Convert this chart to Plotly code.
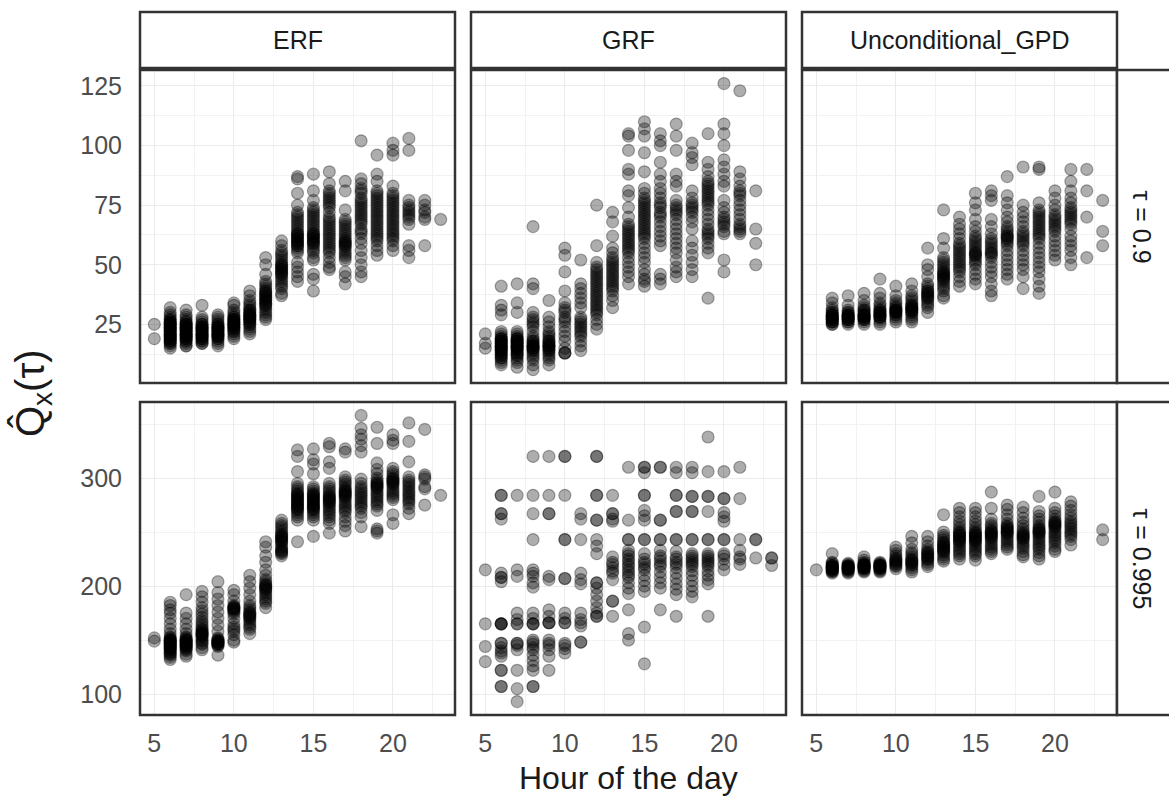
import plotly.graph_objects as go

hours = list(range(5, 24))
methods = ["ERF", "GRF", "Unconditional_GPD"]
taus = ["τ = 0.9", "τ = 0.995"]
xticks = [5, 10, 15, 20]
yticks_090 = [0, 25, 50, 75, 100, 125]
yticks_0995 = [100, 200, 300]

# values per hour (hours 5..23) (repeats = overlapping points)
erf_090 = [
    [25, 19],
    [32, 30, 29, 28, 27, 27, 26, 26, 26, 25, 25, 25, 24, 24, 24, 23, 23, 23, 22, 22, 22, 21, 21, 21, 20, 20, 20, 19, 19, 19, 18, 18, 18, 17, 17, 16, 15],
    [31, 29, 28, 27, 26, 26, 25, 25, 25, 24, 24, 24, 23, 23, 23, 22, 22, 22, 21, 21, 21, 20, 20, 20, 19, 19, 19, 18, 18, 17, 16, 16],
    [33, 28, 27, 26, 25, 25, 24, 24, 24, 23, 23, 23, 22, 22, 22, 21, 21, 21, 20, 20, 20, 19, 19, 19, 18, 18, 17, 17],
    [29, 28, 27, 26, 25, 25, 24, 24, 24, 23, 23, 23, 22, 22, 22, 21, 21, 21, 20, 20, 20, 19, 19, 18, 17, 16],
    [34, 33, 31, 30, 29, 28, 28, 27, 27, 27, 26, 26, 26, 25, 25, 25, 24, 24, 24, 23, 23, 22, 22, 21, 20, 19],
    [39, 37, 35, 34, 33, 32, 31, 31, 30, 30, 29, 29, 29, 28, 28, 28, 27, 27, 27, 26, 26, 25, 25, 24, 23, 22, 21],
    [53, 50, 46, 43, 42, 41, 40, 39, 39, 38, 38, 37, 37, 36, 36, 35, 35, 34, 34, 33, 33, 32, 31, 30, 29, 28, 27],
    [60, 58, 56, 55, 54, 53, 52, 51, 50, 50, 49, 49, 48, 48, 47, 47, 46, 46, 45, 44, 43, 42, 41, 40, 38, 37],
    [87, 86, 80, 75, 72, 71, 70, 69, 68, 67, 66, 65, 64, 63, 63, 62, 62, 61, 61, 60, 60, 59, 59, 58, 58, 57, 56, 55, 51, 49, 47, 45, 43],
    [88, 81, 77, 74, 73, 72, 71, 70, 69, 68, 67, 66, 65, 64, 63, 63, 62, 62, 61, 61, 60, 60, 59, 59, 58, 57, 56, 55, 53, 52, 46, 44, 39],
    [89, 84, 81, 80, 79, 78, 77, 76, 75, 74, 72, 70, 69, 68, 67, 66, 65, 64, 63, 62, 61, 60, 59, 58, 57, 56, 55, 53, 51, 49, 48],
    [85, 81, 73, 69, 68, 67, 66, 65, 64, 63, 62, 61, 60, 60, 59, 59, 58, 58, 57, 56, 55, 54, 53, 52, 47, 45, 42],
    [102, 86, 84, 82, 81, 80, 78, 77, 76, 75, 74, 73, 72, 71, 70, 69, 68, 67, 65, 64, 63, 61, 59, 56, 53, 50, 47, 45],
    [96, 88, 85, 81, 80, 79, 78, 77, 76, 75, 74, 73, 72, 71, 70, 69, 68, 67, 66, 65, 64, 63, 62, 61, 60, 58, 56, 54],
    [101, 98, 96, 83, 80, 79, 78, 77, 76, 75, 74, 73, 72, 71, 70, 69, 68, 67, 66, 65, 64, 63, 62, 61, 60, 58, 56],
    [103, 98, 77, 75, 74, 73, 72, 71, 70, 69, 67, 58, 56, 53],
    [77, 75, 73, 72, 70, 69, 58],
    [69],
]

grf_090 = [
    [21, 17, 15],
    [41, 33, 31, 29, 22, 21, 20, 19, 19, 19, 18, 18, 18, 17, 17, 17, 16, 16, 16, 15, 15, 15, 14, 14, 14, 13, 13, 12, 12, 11, 11, 10, 9, 8],
    [42, 34, 30, 22, 21, 20, 19, 19, 19, 18, 18, 18, 17, 17, 17, 16, 16, 16, 15, 15, 15, 14, 14, 13, 13, 12, 12, 11, 10, 9, 7],
    [66, 42, 40, 30, 28, 27, 26, 25, 24, 22, 20, 19, 18, 18, 17, 17, 16, 16, 16, 15, 15, 15, 14, 14, 13, 12, 11, 10, 8, 6],
    [35, 28, 26, 24, 22, 21, 20, 19, 18, 18, 17, 17, 16, 16, 16, 15, 15, 14, 14, 13, 12, 11, 10, 8],
    [57, 54, 47, 39, 34, 32, 31, 30, 28, 27, 26, 24, 22, 20, 18, 15, 13, 13, 13],
    [52, 42, 40, 38, 36, 34, 32, 28, 27, 26, 25, 24, 23, 22, 21, 20, 18, 16, 14],
    [75, 58, 51, 49, 48, 47, 46, 45, 44, 43, 42, 41, 40, 39, 38, 37, 36, 35, 34, 33, 32, 31, 30, 29, 27, 25, 23],
    [72, 68, 62, 57, 55, 53, 52, 51, 50, 49, 48, 47, 46, 45, 44, 43, 42, 41, 40, 39, 37, 35, 32],
    [105, 104, 98, 90, 88, 81, 79, 74, 70, 67, 66, 65, 64, 63, 62, 61, 60, 59, 58, 57, 56, 55, 53, 51, 49, 47, 45, 42],
    [110, 107, 104, 97, 89, 82, 80, 78, 77, 76, 75, 74, 73, 72, 71, 70, 69, 68, 67, 66, 65, 64, 63, 62, 61, 59, 57, 55, 53, 51, 48, 46, 44, 43, 41],
    [105, 102, 100, 93, 88, 85, 82, 80, 78, 76, 75, 74, 72, 71, 70, 68, 66, 64, 62, 60, 58, 46, 44, 42],
    [109, 104, 98, 88, 85, 83, 77, 75, 74, 73, 72, 71, 69, 67, 65, 63, 61, 59, 57, 55, 52, 49, 47, 45],
    [101, 97, 95, 92, 81, 78, 76, 75, 74, 73, 72, 70, 68, 65, 60, 57, 54, 51, 48, 45],
    [105, 93, 90, 87, 85, 84, 83, 82, 81, 80, 79, 78, 77, 76, 75, 73, 71, 69, 67, 65, 64, 63, 62, 61, 59, 57, 55, 36],
    [126, 109, 105, 100, 94, 91, 88, 85, 83, 77, 74, 72, 70, 69, 68, 67, 66, 64, 63, 52, 47],
    [123, 89, 86, 83, 81, 80, 79, 77, 75, 73, 71, 69, 67, 66, 65, 64, 63],
    [81, 65, 59, 50],
    [],
]

gpd_090 = [
    [],
    [36, 34, 32, 31, 30, 30, 29, 29, 29, 28, 28, 28, 28, 27, 27, 27, 27, 26, 26, 26, 25, 25],
    [37, 33, 31, 30, 30, 29, 29, 29, 28, 28, 28, 28, 27, 27, 27, 27, 26, 26, 25],
    [38, 35, 33, 32, 31, 31, 30, 30, 29, 29, 29, 28, 28, 28, 28, 27, 27, 27, 26, 25],
    [44, 38, 36, 34, 33, 32, 31, 31, 30, 30, 30, 29, 29, 29, 28, 28, 28, 27, 26, 25],
    [41, 37, 35, 34, 33, 32, 32, 31, 31, 31, 30, 30, 30, 29, 29, 28, 27, 26],
    [42, 39, 37, 36, 35, 34, 33, 33, 32, 32, 32, 31, 31, 31, 30, 30, 29, 28, 27, 26],
    [57, 50, 48, 45, 42, 41, 40, 39, 39, 38, 38, 37, 37, 36, 36, 35, 34, 33, 32, 30],
    [73, 61, 57, 53, 52, 51, 50, 49, 48, 47, 47, 46, 46, 45, 45, 44, 44, 43, 42, 41, 40, 39, 37, 36],
    [70, 67, 65, 63, 61, 59, 58, 57, 56, 55, 54, 53, 52, 51, 50, 49, 48, 47, 45, 43, 41],
    [80, 76, 73, 69, 66, 64, 62, 61, 60, 59, 58, 57, 56, 55, 55, 54, 54, 53, 52, 51, 50, 48, 46, 44, 42],
    [81, 79, 77, 69, 66, 63, 61, 60, 59, 58, 57, 56, 55, 55, 54, 53, 51, 49, 47, 45, 42, 39, 37],
    [87, 79, 76, 73, 70, 68, 66, 65, 64, 63, 62, 62, 61, 61, 60, 59, 58, 56, 54, 52, 50, 48, 46, 44],
    [91, 75, 72, 70, 68, 66, 64, 63, 62, 61, 60, 59, 58, 56, 54, 52, 50, 48, 45, 40],
    [91, 90, 76, 73, 72, 71, 70, 69, 68, 67, 66, 65, 64, 63, 62, 61, 59, 57, 55, 53, 51, 49, 47, 44, 41, 38],
    [81, 78, 75, 73, 71, 70, 69, 68, 67, 66, 65, 64, 62, 60, 58, 56, 54, 52],
    [90, 85, 81, 78, 76, 74, 73, 72, 71, 70, 69, 68, 67, 65, 62, 60, 58, 56, 53, 50],
    [90, 81, 70, 53],
    [77, 64, 58],
]

erf_0995 = [
    [152, 149],
    [185, 182, 178, 175, 170, 165, 160, 156, 153, 152, 151, 150, 150, 149, 148, 148, 147, 146, 146, 145, 144, 144, 143, 142, 142, 141, 140, 139, 138, 137, 136, 134, 132],
    [192, 175, 170, 165, 160, 156, 153, 152, 151, 150, 150, 149, 148, 148, 147, 146, 146, 145, 144, 144, 143, 142, 141, 140, 137, 135],
    [195, 190, 185, 180, 177, 174, 171, 168, 166, 164, 162, 160, 159, 158, 157, 156, 156, 155, 155, 154, 153, 152, 150, 149, 147, 146, 143, 141],
    [204, 194, 188, 182, 176, 170, 164, 158, 152, 151, 150, 149, 149, 148, 148, 147, 147, 146, 146, 145, 144, 136],
    [196, 192, 186, 182, 181, 180, 180, 179, 179, 178, 177, 176, 174, 170, 165, 162, 160, 158, 155, 150, 148],
    [210, 204, 198, 192, 186, 182, 180, 178, 176, 175, 174, 173, 172, 171, 170, 168, 166, 164, 162, 160, 156],
    [241, 236, 228, 222, 215, 210, 206, 204, 202, 201, 200, 199, 198, 197, 196, 194, 192, 190, 188, 186, 184, 180],
    [261, 258, 256, 254, 252, 250, 248, 247, 246, 245, 244, 243, 242, 241, 240, 238, 236, 234, 233, 232, 231, 230, 228],
    [326, 320, 306, 295, 292, 290, 288, 286, 285, 284, 283, 282, 281, 280, 279, 278, 277, 276, 275, 274, 273, 272, 271, 270, 268, 266, 264, 261, 241],
    [327, 317, 313, 304, 292, 290, 288, 286, 285, 284, 283, 282, 281, 280, 279, 278, 277, 276, 275, 274, 273, 272, 271, 270, 268, 266, 264, 261, 246],
    [332, 329, 315, 309, 295, 292, 290, 288, 286, 284, 283, 282, 281, 280, 279, 278, 277, 276, 274, 272, 270, 268, 266, 264, 261, 258, 249],
    [327, 324, 301, 298, 296, 294, 292, 290, 289, 288, 287, 286, 285, 284, 283, 282, 280, 278, 276, 274, 272, 270, 268, 264, 260, 256, 251],
    [358, 346, 340, 336, 330, 324, 299, 295, 292, 290, 288, 286, 284, 282, 280, 278, 276, 274, 272, 268, 264, 255],
    [347, 332, 314, 308, 304, 300, 298, 296, 295, 294, 293, 292, 291, 290, 288, 286, 284, 282, 280, 278, 276, 274, 270, 253, 251, 249],
    [340, 335, 332, 309, 306, 304, 302, 300, 299, 298, 297, 296, 295, 294, 292, 290, 288, 286, 284, 282, 280, 266, 258],
    [351, 334, 315, 301, 298, 296, 294, 292, 290, 288, 286, 284, 282, 280, 278, 276, 272, 267],
    [345, 303, 301, 299, 292, 290, 275],
    [284],
]

grf_0995 = [
    [215, 165, 144, 130],
    [284, 284, 267, 267, 262, 212, 208, 208, 204, 165, 165, 165, 165, 147, 147, 143, 140, 138, 135, 122, 122, 107, 107],
    [284, 215, 209, 175, 169, 165, 165, 147, 147, 145, 141, 122, 105, 93],
    [320, 284, 267, 243, 215, 212, 209, 203, 199, 175, 170, 165, 165, 165, 150, 148, 146, 143, 141, 136, 131, 126, 122, 107, 107],
    [320, 284, 267, 267, 209, 206, 178, 172, 166, 166, 166, 150, 147, 145, 141, 135, 122],
    [320, 320, 284, 243, 243, 207, 207, 175, 170, 166, 166, 147, 145, 142, 138],
    [267, 262, 243, 212, 206, 202, 175, 169, 166, 163, 148, 148],
    [320, 320, 284, 284, 261, 261, 243, 237, 230, 203, 203, 198, 192, 186, 180, 175, 172, 172],
    [284, 267, 267, 262, 260, 227, 222, 220, 217, 214, 212, 206, 186, 186, 172],
    [310, 261, 243, 243, 233, 230, 228, 225, 223, 220, 218, 215, 213, 210, 208, 203, 198, 193, 178, 156, 150],
    [310, 310, 305, 284, 284, 270, 265, 261, 243, 243, 230, 225, 222, 220, 217, 215, 210, 205, 200, 195, 162, 128],
    [310, 310, 261, 261, 243, 243, 233, 228, 226, 223, 220, 218, 213, 208, 203, 198, 178],
    [310, 305, 284, 284, 269, 269, 243, 243, 232, 227, 225, 222, 220, 217, 212, 207, 202, 197, 192, 172],
    [310, 305, 283, 283, 269, 269, 243, 243, 230, 228, 226, 224, 222, 220, 218, 214, 210, 205, 200, 195, 190],
    [338, 306, 283, 283, 269, 243, 243, 230, 228, 226, 224, 222, 220, 218, 214, 210, 206, 202, 172],
    [306, 281, 281, 268, 264, 260, 243, 243, 230, 228, 225, 220, 215],
    [310, 281, 243, 233, 227, 225, 220],
    [243, 243, 226],
    [226, 226, 219],
]

gpd_0995 = [
    [215],
    [230, 222, 221, 220, 219, 219, 218, 218, 218, 217, 217, 217, 216, 216, 216, 215, 215, 214, 214, 213, 212],
    [221, 220, 219, 219, 218, 218, 218, 217, 217, 217, 216, 216, 216, 215, 215, 214, 213, 212],
    [227, 224, 222, 221, 220, 220, 219, 219, 219, 218, 218, 218, 217, 217, 217, 216, 216, 215, 214, 213],
    [222, 221, 220, 220, 219, 219, 219, 218, 218, 218, 217, 217, 216, 216, 215, 214, 213],
    [236, 233, 230, 228, 226, 225, 224, 223, 222, 221, 220, 219, 218, 216],
    [246, 240, 234, 231, 229, 227, 225, 224, 223, 222, 221, 220, 219, 217, 215, 213],
    [246, 241, 237, 234, 232, 231, 230, 229, 228, 227, 226, 225, 224, 222, 220, 218],
    [266, 250, 247, 245, 243, 241, 240, 239, 238, 237, 236, 235, 234, 233, 232, 231, 229, 227, 225, 223],
    [272, 268, 264, 260, 257, 254, 252, 250, 249, 248, 247, 246, 245, 244, 243, 242, 241, 240, 238, 236, 234, 232, 230, 228, 225],
    [272, 268, 264, 260, 257, 254, 252, 250, 249, 248, 247, 246, 245, 244, 243, 242, 241, 240, 238, 236, 234, 232, 230, 228, 224],
    [287, 272, 262, 258, 256, 254, 252, 251, 250, 249, 248, 247, 246, 245, 244, 242, 240, 238, 236, 234, 232, 230],
    [275, 271, 266, 262, 258, 256, 255, 254, 253, 252, 251, 250, 249, 248, 246, 244, 242, 240, 238, 236, 234],
    [273, 268, 263, 259, 256, 253, 251, 249, 248, 247, 246, 245, 244, 243, 241, 239, 237, 235, 232, 229, 227],
    [283, 269, 265, 262, 259, 256, 254, 253, 252, 251, 250, 249, 248, 246, 244, 242, 240, 238, 236, 234, 231, 228, 225],
    [287, 272, 268, 265, 262, 260, 259, 258, 257, 256, 255, 254, 252, 250, 248, 246, 244, 242, 240, 237, 234, 232],
    [278, 274, 270, 266, 263, 260, 258, 256, 254, 252, 250, 248, 246, 243, 238],
    [],
    [252, 243],
]

panels = [[erf_090, grf_090, gpd_090], [erf_0995, grf_0995, gpd_0995]]

# ---------------- layout geometry (pixels) ----------------
W, H = 1169, 800
col_px = [(140, 455), (471, 786), (802, 1117)]
row_px = [(70, 383), (402, 715)]
strip_top = (12, 68)
strip_right = (1117, 1175)
xrange_ = [4.1, 23.9]
yranges = [[0.4, 131.7], [80.6, 370.4]]
ytickvals = [yticks_090, yticks_0995]
yminor = [12.5, 50]
border = "#333333"
tickcol = "#4D4D4D"
txtcol = "#1A1A1A"

def px_x(p):
    return p / W

def px_y(p):
    return 1 - p / H

fig = go.Figure()
layout = dict(
    width=W, height=H, margin=dict(l=0, r=0, t=0, b=0),
    paper_bgcolor="white", plot_bgcolor="white", showlegend=False,
    font=dict(family="Liberation Sans, Arial, sans-serif"),
)

shapes = []
annotations = []
idx = 0
for r in range(2):
    for c in range(3):
        idx += 1
        sfx = "" if idx == 1 else str(idx)
        xs, ys = [], []
        for h, vals in zip(hours, panels[r][c]):
            for v in vals:
                xs.append(h)
                ys.append(v)
        # one trace per point keeps every mark drawn separately so overlaps build up
        fig.add_trace(go.Scatter(
            x=xs, y=ys, mode="markers", xaxis="x" + sfx, yaxis="y" + sfx,
            marker=dict(size=12, color="rgba(0,0,0,0.32)",
                        line=dict(color="rgba(0,0,0,0.32)", width=1.2)),
            hoverinfo="skip",
        ))
        x0, x1 = col_px[c]
        y0, y1 = row_px[r]
        layout["xaxis" + sfx] = dict(
            domain=[px_x(x0), px_x(x1)], range=xrange_, anchor="y" + sfx,
            tickvals=xticks, showticklabels=(r == 1),
            tickfont=dict(size=25, color=tickcol),
            showgrid=True, gridcolor="#EBEBEB", gridwidth=1,
            minor=dict(showgrid=True, gridcolor="#F2F2F2", gridwidth=1, dtick=2.5, tick0=2.5),
            zeroline=False, showline=False, ticks="outside", ticklen=6, tickcolor="rgba(0,0,0,0)",
        )
        layout["yaxis" + sfx] = dict(
            domain=[px_y(y1), px_y(y0)], range=yranges[r], anchor="x" + sfx,
            tickvals=ytickvals[r], showticklabels=(c == 0),
            tickfont=dict(size=25, color=tickcol),
            showgrid=True, gridcolor="#EBEBEB", gridwidth=1,
            minor=dict(showgrid=True, gridcolor="#F2F2F2", gridwidth=1, dtick=yminor[r] * 2,
                       tick0=yminor[r]),
            zeroline=False, showline=False, ticks="outside", ticklen=12, tickcolor="rgba(0,0,0,0)",
        )
        shapes.append(dict(type="rect", xref="paper", yref="paper",
                           x0=px_x(x0), x1=px_x(x1), y0=px_y(y1), y1=px_y(y0),
                           line=dict(color=border, width=2.5), fillcolor="rgba(0,0,0,0)",
                           layer="above"))

# top strips
for c, name in enumerate(methods):
    x0, x1 = col_px[c]
    shapes.append(dict(type="rect", xref="paper", yref="paper",
                       x0=px_x(x0), x1=px_x(x1), y0=px_y(strip_top[1]), y1=px_y(strip_top[0]),
                       line=dict(color=border, width=2.5), fillcolor="white"))
    annotations.append(dict(text=name, xref="paper", yref="paper",
                            x=px_x((x0 + x1) / 2), y=px_y((strip_top[0] + strip_top[1]) / 2),
                            showarrow=False, font=dict(size=25, color=txtcol),
                            xanchor="center", yanchor="middle"))
# right strips
for r, lab in enumerate(taus):
    y0, y1 = row_px[r]
    shapes.append(dict(type="rect", xref="paper", yref="paper",
                       x0=px_x(strip_right[0]), x1=px_x(strip_right[1]),
                       y0=px_y(y1), y1=px_y(y0),
                       line=dict(color=border, width=2.5), fillcolor="white"))
    annotations.append(dict(text=lab, xref="paper", yref="paper",
                            x=px_x(1142), y=px_y((y0 + y1) / 2), textangle=90,
                            showarrow=False, font=dict(size=25, color=txtcol),
                            xanchor="center", yanchor="middle"))

# axis titles
annotations.append(dict(text="Hour of the day", xref="paper", yref="paper",
                        x=px_x((140 + 1117) / 2), y=px_y(778), showarrow=False,
                        font=dict(size=32, color=txtcol), xanchor="center", yanchor="middle"))
annotations.append(dict(text="Q\u0302<sub>x</sub>(τ)", xref="paper", yref="paper",
                        x=px_x(32), y=px_y(393), showarrow=False, textangle=-90,
                        font=dict(size=40, color=txtcol), xanchor="center", yanchor="middle"))

layout["shapes"] = shapes
layout["annotations"] = annotations
fig.update_layout(**layout)
fig.write_html("out.html", config={"displayModeBar": False},
               post_script="document.body.style.margin='0px';document.body.style.overflow='hidden';")
